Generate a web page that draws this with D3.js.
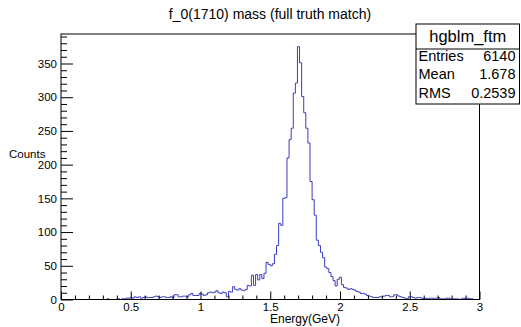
<!DOCTYPE html>
<html>
<head>
<meta charset="utf-8">
<script src="https://cdn.jsdelivr.net/npm/d3@7"></script>
<style>
  html, body { margin: 0; padding: 0; background: #fff; }
  svg { display: block; }
  text { font-family: "Liberation Sans", Arial, Helvetica, sans-serif; fill: #000; }
</style>
</head>
<body>
<svg id="chart" width="521" height="327"></svg>
<script>
// ---- Data ----
const chartTitle = "f_0(1710) mass (full truth match)";
const xTitle = "Energy(GeV)";
const yTitle = "Counts";
const histName = "hgblm_ftm";
const statLabels = ["Entries", "Mean", "RMS"];
const statValues = ["6140", "1.678", "0.2539"];
const xRange = [0, 3];
const nBins = 200;
const xTickLabels = ["0", "0.5", "1", "1.5", "2", "2.5", "3"];
const yTickLabels = ["0", "50", "100", "150", "200", "250", "300", "350"];
// bin contents (0.015 GeV bins, 0 - 3 GeV)
const counts = [
  0,0,0,0,0,0,0,0,0,0,  0,0,0,0,0,0,0,0,0,0,
  0,0,1,0,0,0,0,1,0,1,  1,2,2,3,2,4,3,4,2,3,
  4,3,3,3,4,5,4,3,4,4,  3,3,4,3,7,7,4,4,5,5,
  4,7,9,6,6,6,9,8,6,7,  10,11,10,11,13,10,9,11,10,4,
  12,11,19,15,14,16,14,13,15,21,  20,36,21,37,29,37,31,39,55,52,
  50,53,67,80,113,110,150,151,210,237,  254,306,321,375,351,301,277,254,232,175,
  148,125,88,80,70,62,48,46,40,34,  28,20,30,33,22,18,17,15,16,15,
  14,12,11,9,9,8,6,5,4,3,  3,3,4,4,5,6,6,4,4,7,
  7,5,4,3,2,1,4,4,3,2,  3,3,2,1,2,1,2,2,1,2,
  3,1,1,1,2,2,1,1,1,1,  0,1,2,1,2,1,1,0,0,0
];

// ---- Layout ----
const svg = d3.select("#chart");
const frame = { left: 61, right: 479.5, top: 34, bottom: 299.5 };
const binW = (xRange[1] - xRange[0]) / nBins;
const yMax = d3.max(counts) * 1.05;

const x = d3.scaleLinear().domain(xRange).range([frame.left, frame.right]);
const y = d3.scaleLinear().domain([0, yMax]).range([frame.bottom, frame.top]);

// histogram step line
const pts = counts.map((c, i) => [xRange[0] + i * binW, c]);
pts.push([xRange[1], counts[counts.length - 1]]);
const line = d3.line().x(d => x(d[0])).y(d => y(d[1])).curve(d3.curveStepAfter);
svg.append("path")
  .attr("d", line(pts))
  .attr("fill", "none")
  .attr("stroke", "#3c3cc4")
  .attr("stroke-width", 1);

// frame
svg.append("rect")
  .attr("x", frame.left).attr("y", frame.top)
  .attr("width", frame.right - frame.left).attr("height", frame.bottom - frame.top)
  .attr("fill", "none").attr("stroke", "#000").attr("stroke-width", 1);

const labelFont = "Liberation Sans, Arial, sans-serif";

// x axis ticks
const xMajor = xTickLabels.map(Number);
const xMinor = d3.range(0, 31).map(i => i / 10).filter(v => !xMajor.some(m => Math.abs(m - v) < 1e-9));
const gx = svg.append("g").attr("transform", `translate(0,${frame.bottom})`);
gx.call(d3.axisBottom(x).tickValues(xMinor).tickSize(-4).tickFormat(""))
  .call(g => g.select(".domain").remove());
gx.append("g").call(d3.axisBottom(x).tickValues(xMajor).tickSize(-8)
    .tickFormat((d, i) => xTickLabels[i]).tickPadding(3))
  .call(g => g.select(".domain").remove())
  .call(g => g.selectAll("text").attr("font-size", 11.5).attr("font-family", labelFont).attr("fill", "#000"));
gx.selectAll("line").attr("stroke", "#000");

// y axis ticks
const yMajor = yTickLabels.map(Number);
const yMinor = d3.range(0, 400, 10).filter(v => v <= yMax && v % 50 !== 0);
const gy = svg.append("g").attr("transform", `translate(${frame.left},0)`);
gy.call(d3.axisLeft(y).tickValues(yMinor).tickSize(-6).tickFormat(""))
  .call(g => g.select(".domain").remove());
gy.append("g").call(d3.axisLeft(y).tickValues(yMajor).tickSize(-12)
    .tickFormat((d, i) => yTickLabels[i]).tickPadding(4))
  .call(g => g.select(".domain").remove())
  .call(g => g.selectAll("text").attr("font-size", 11.5).attr("font-family", labelFont).attr("fill", "#000"));
gy.selectAll("line").attr("stroke", "#000");

// titles
svg.append("text").attr("x", 270).attr("y", 19).attr("text-anchor", "middle")
  .attr("font-size", 14).text(chartTitle);
svg.append("text").attr("x", 340).attr("y", 323).attr("text-anchor", "end")
  .attr("font-size", 12).text(xTitle);
svg.append("text").attr("x", 9).attr("y", 158).attr("text-anchor", "start")
  .attr("font-size", 11.5).text(yTitle);

// stats box
const box = { x: 416, y: 24, w: 103.5, h: 80 };
svg.append("rect").attr("x", box.x).attr("y", box.y).attr("width", box.w).attr("height", box.h)
  .attr("fill", "#fff").attr("stroke", "#000").attr("stroke-width", 1);
svg.append("line").attr("x1", box.x).attr("x2", box.x + box.w)
  .attr("y1", box.y + 25).attr("y2", box.y + 25).attr("stroke", "#000");
svg.append("text").attr("x", box.x + box.w / 2).attr("y", box.y + 18)
  .attr("text-anchor", "middle").attr("font-size", 16.5).text(histName);
statLabels.forEach((lab, i) => {
  const by = box.y + 36.5 + i * 18.7;
  svg.append("text").attr("x", box.x + 2.5).attr("y", by).attr("font-size", 14.5).text(lab);
  svg.append("text").attr("x", box.x + box.w - 4).attr("y", by)
    .attr("text-anchor", "end").attr("font-size", 14.5).text(statValues[i]);
});
</script>
</body>
</html>
